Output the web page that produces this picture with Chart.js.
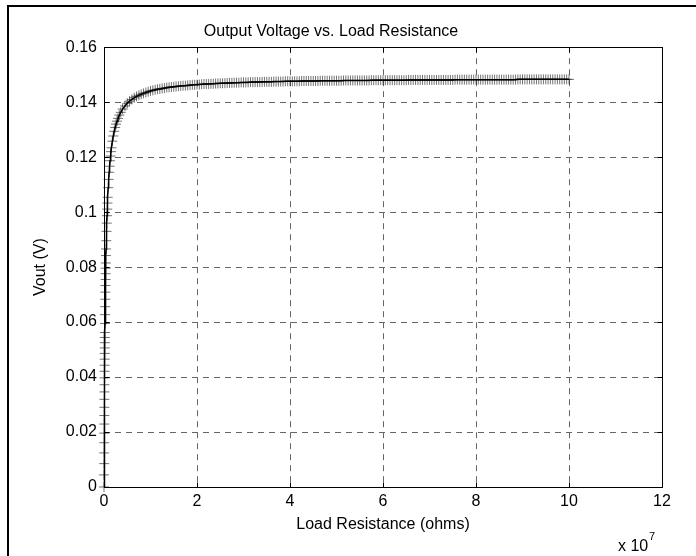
<!DOCTYPE html>
<html>
<head>
<meta charset="utf-8">
<script src="https://cdn.jsdelivr.net/npm/chart.js@4.4.0/dist/chart.umd.min.js"></script>
<style>
  html, body { margin: 0; padding: 0; background: #fff; }
  #wrap { position: relative; width: 696px; height: 556px; overflow: hidden; }
  #frame { position: absolute; left: 7px; top: 5px; width: 800px; height: 700px;
           border-left: 2px solid #000; border-top: 2px solid #000; }
  #mycanvas { position: absolute; left: 0; top: 0; }
</style>
</head>
<body>
<div id="wrap">
  <div id="frame"></div>
  <canvas id="mycanvas" width="696" height="556"></canvas>
</div>
<script>
// load resistance in ohms
var resistance = [
  0, 1e4, 2e4, 3e4, 4e4, 5e4, 6e4, 7e4, 8e4, 9e4,
  1e5, 1.1e5, 1.2e5, 1.3e5, 1.4e5, 1.5e5, 1.6e5, 1.7e5, 1.8e5, 1.9e5,
  2e5, 2.2e5, 2.4e5, 2.6e5, 2.8e5, 3e5, 3.2e5, 3.4e5, 3.6e5, 3.8e5,
  4e5, 4.3e5, 4.6e5, 5e5, 5.5e5, 6e5, 6.5e5, 7e5, 7.5e5, 8e5,
  9e5, 1e6, 1.1e6, 1.2e6, 1.3e6, 1.4e6, 1.5e6, 1.6e6, 1.8e6, 2e6,
  2.2e6, 2.4e6, 2.6e6, 2.8e6, 3e6, 3.3e6, 3.6e6, 4e6, 4.5e6, 5e6,
  5.5e6, 6e6, 6.5e6, 7e6, 7.5e6, 8e6, 8.5e6, 9e6, 9.5e6,
  1e7, 1.05e7, 1.1e7, 1.15e7, 1.2e7, 1.25e7, 1.3e7, 1.35e7, 1.4e7, 1.45e7,
  1.5e7, 1.55e7, 1.6e7, 1.65e7, 1.7e7, 1.75e7, 1.8e7, 1.85e7, 1.9e7, 1.95e7,
  2e7, 2.05e7, 2.1e7, 2.15e7, 2.2e7, 2.25e7, 2.3e7, 2.35e7, 2.4e7, 2.45e7,
  2.5e7, 2.55e7, 2.6e7, 2.65e7, 2.7e7, 2.75e7, 2.8e7, 2.85e7, 2.9e7, 2.95e7,
  3e7, 3.05e7, 3.1e7, 3.15e7, 3.2e7, 3.25e7, 3.3e7, 3.35e7, 3.4e7, 3.45e7,
  3.5e7, 3.55e7, 3.6e7, 3.65e7, 3.7e7, 3.75e7, 3.8e7, 3.85e7, 3.9e7, 3.95e7,
  4e7, 4.05e7, 4.1e7, 4.15e7, 4.2e7, 4.25e7, 4.3e7, 4.35e7, 4.4e7, 4.45e7,
  4.5e7, 4.55e7, 4.6e7, 4.65e7, 4.7e7, 4.75e7, 4.8e7, 4.85e7, 4.9e7, 4.95e7,
  5e7, 5.05e7, 5.1e7, 5.15e7, 5.2e7, 5.25e7, 5.3e7, 5.35e7, 5.4e7, 5.45e7,
  5.5e7, 5.55e7, 5.6e7, 5.65e7, 5.7e7, 5.75e7, 5.8e7, 5.85e7, 5.9e7, 5.95e7,
  6e7, 6.05e7, 6.1e7, 6.15e7, 6.2e7, 6.25e7, 6.3e7, 6.35e7, 6.4e7, 6.45e7,
  6.5e7, 6.55e7, 6.6e7, 6.65e7, 6.7e7, 6.75e7, 6.8e7, 6.85e7, 6.9e7, 6.95e7,
  7e7, 7.05e7, 7.1e7, 7.15e7, 7.2e7, 7.25e7, 7.3e7, 7.35e7, 7.4e7, 7.45e7,
  7.5e7, 7.55e7, 7.6e7, 7.65e7, 7.7e7, 7.75e7, 7.8e7, 7.85e7, 7.9e7, 7.95e7,
  8e7, 8.05e7, 8.1e7, 8.15e7, 8.2e7, 8.25e7, 8.3e7, 8.35e7, 8.4e7, 8.45e7,
  8.5e7, 8.55e7, 8.6e7, 8.65e7, 8.7e7, 8.75e7, 8.8e7, 8.85e7, 8.9e7, 8.95e7,
  9e7, 9.05e7, 9.1e7, 9.15e7, 9.2e7, 9.25e7, 9.3e7, 9.35e7, 9.4e7, 9.45e7,
  9.5e7, 9.55e7, 9.6e7, 9.65e7, 9.7e7, 9.75e7, 9.8e7, 9.85e7, 9.9e7, 9.95e7,
  1e8
];
// output voltage (V)
var vout = [
  0, 0.0044, 0.0085, 0.0124, 0.0161, 0.0196, 0.0229, 0.0260, 0.0290, 0.0319,
  0.0346, 0.0372, 0.0397, 0.0421, 0.0443, 0.0465, 0.0486, 0.0506, 0.0525, 0.0544,
  0.0562, 0.0595, 0.0627, 0.0656, 0.0683, 0.0709, 0.0733, 0.0755, 0.0776, 0.0796,
  0.0815, 0.0842, 0.0866, 0.0896, 0.0930, 0.0960, 0.0987, 0.1011, 0.1033, 0.1054,
  0.1089, 0.1119, 0.1145, 0.1167, 0.1187, 0.1204, 0.1220, 0.1234, 0.1258, 0.1277,
  0.1294, 0.1308, 0.1320, 0.1331, 0.1341, 0.1353, 0.1363, 0.1375, 0.1386, 0.1396,
  0.1404, 0.1410, 0.1416, 0.1421, 0.1425, 0.1429, 0.1432, 0.1435, 0.1438,
  0.1441, 0.1443, 0.1445, 0.1447, 0.1448, 0.1450, 0.1451, 0.1453, 0.1454, 0.1455,
  0.1456, 0.1457, 0.1458, 0.1459, 0.1460, 0.1460, 0.1461, 0.1462, 0.1463, 0.1463,
  0.1464, 0.1464, 0.1465, 0.1466, 0.1466, 0.1466, 0.1467, 0.1467, 0.1468, 0.1468,
  0.1469, 0.1469, 0.1469, 0.1470, 0.1470, 0.1470, 0.1471, 0.1471, 0.1471, 0.1472,
  0.1472, 0.1472, 0.1472, 0.1473, 0.1473, 0.1473, 0.1473, 0.1473, 0.1474, 0.1474,
  0.1474, 0.1474, 0.1474, 0.1475, 0.1475, 0.1475, 0.1475, 0.1475, 0.1476, 0.1476,
  0.1476, 0.1476, 0.1476, 0.1476, 0.1476, 0.1477, 0.1477, 0.1477, 0.1477, 0.1477,
  0.1477, 0.1477, 0.1477, 0.1478, 0.1478, 0.1478, 0.1478, 0.1478, 0.1478, 0.1478,
  0.1478, 0.1478, 0.1478, 0.1479, 0.1479, 0.1479, 0.1479, 0.1479, 0.1479, 0.1479,
  0.1479, 0.1479, 0.1479, 0.1479, 0.1479, 0.1480, 0.1480, 0.1480, 0.1480, 0.1480,
  0.1480, 0.1480, 0.1480, 0.1480, 0.1480, 0.1480, 0.1480, 0.1480, 0.1480, 0.1480,
  0.1480, 0.1481, 0.1481, 0.1481, 0.1481, 0.1481, 0.1481, 0.1481, 0.1481, 0.1481,
  0.1481, 0.1481, 0.1481, 0.1481, 0.1481, 0.1481, 0.1481, 0.1481, 0.1481, 0.1481,
  0.1481, 0.1482, 0.1482, 0.1482, 0.1482, 0.1482, 0.1482, 0.1482, 0.1482, 0.1482,
  0.1482, 0.1482, 0.1482, 0.1482, 0.1482, 0.1482, 0.1482, 0.1482, 0.1482, 0.1482,
  0.1482, 0.1482, 0.1482, 0.1482, 0.1482, 0.1482, 0.1482, 0.1482, 0.1483, 0.1483,
  0.1483, 0.1483, 0.1483, 0.1483, 0.1483, 0.1483, 0.1483, 0.1483, 0.1483, 0.1483,
  0.1483, 0.1483, 0.1483, 0.1483, 0.1483, 0.1483, 0.1483, 0.1483, 0.1483, 0.1483,
  0.1483
];

var xTickValues = [0, 2e7, 4e7, 6e7, 8e7, 10e7, 12e7];
var xTickLabels = ['0', '2', '4', '6', '8', '10', '12'];
var yTickValues = [0, 0.02, 0.04, 0.06, 0.08, 0.1, 0.12, 0.14, 0.16];
var yTickLabels = ['0', '0.02', '0.04', '0.06', '0.08', '0.1', '0.12', '0.14', '0.16'];

var FONT = 'Liberation Sans, Arial, sans-serif';

var points = [];
for (var i in resistance) {
  points.push({ x: resistance[i], y: vout[i] });
}

// box, inward tick marks and the x10^7 exponent, like a matlab axes
var matlabAxes = {
  id: 'matlabAxes',
  afterDraw: function(chart) {
    var ctx = chart.ctx;
    var a = chart.chartArea;
    var xs = chart.scales.x, ys = chart.scales.y;
    var L = Math.round(a.left) + 0.5, R = Math.round(a.right) + 0.5;
    var T = Math.round(a.top) + 0.5, B = Math.round(a.bottom) + 0.5;
    ctx.save();
    ctx.strokeStyle = '#000';
    ctx.lineWidth = 1;
    ctx.beginPath();
    ctx.rect(L, T, R - L, B - T);
    xTickValues.forEach(function(v) {
      var px = Math.round(xs.getPixelForValue(v)) + 0.5;
      ctx.moveTo(px, B); ctx.lineTo(px, B - 5);
      ctx.moveTo(px, T); ctx.lineTo(px, T + 5);
    });
    yTickValues.forEach(function(v) {
      var py = Math.round(ys.getPixelForValue(v)) + 0.5;
      ctx.moveTo(L, py); ctx.lineTo(L + 5, py);
      ctx.moveTo(R, py); ctx.lineTo(R - 5, py);
    });
    ctx.stroke();
    ctx.fillStyle = '#000';
    ctx.textBaseline = 'alphabetic';
    ctx.textAlign = 'left';
    ctx.font = '16px ' + FONT;
    ctx.fillText('x 10', a.right - 44, 551);
    ctx.font = '11px ' + FONT;
    ctx.fillText('7', a.right - 13, 540);
    ctx.restore();
  }
};

var ctx = document.getElementById('mycanvas');

var lineChart = new Chart(ctx, {
  type: 'scatter',
  data: {
    datasets: [
      {
        label: 'Vout',
        data: points,
        showLine: true,
        borderColor: '#000',
        borderWidth: 1.5,
        pointStyle: 'cross',
        pointRadius: 5,
        pointBorderColor: 'rgba(0,0,0,0.55)',
        pointBorderWidth: 1,
        pointHoverRadius: 5,
        clip: false
      }
    ]
  },
  options: {
    responsive: false,
    animation: false,
    devicePixelRatio: 1,
    layout: { padding: { left: 0, right: 34, top: 0, bottom: 0 } },
    plugins: {
      legend: { display: false },
      tooltip: { enabled: false },
      title: {
        display: true,
        text: 'Output Voltage vs. Load Resistance',
        color: '#000',
        font: { family: FONT, size: 16, weight: 'normal' },
        padding: { top: 22, bottom: 6 }
      }
    },
    scales: {
      x: {
        type: 'linear',
        min: 0,
        max: 12e7,
        afterBuildTicks: function(scale) {
          scale.ticks = xTickValues.map(function(v) { return { value: v }; });
        },
        afterFit: function(scale) { scale.height = 69; },
        ticks: {
          color: '#000',
          font: { family: FONT, size: 16 },
          padding: 5,
          maxRotation: 0,
          callback: function(v, i) { return xTickLabels[i]; }
        },
        grid: { color: '#666', lineWidth: 1, drawTicks: false, tickLength: 0 },
        border: { display: false, dash: [6, 5] },
        title: {
          display: true,
          text: 'Load Resistance (ohms)',
          color: '#000',
          font: { family: FONT, size: 16 },
          padding: { top: 0, bottom: 22 }
        }
      },
      y: {
        type: 'linear',
        min: 0,
        max: 0.16,
        afterBuildTicks: function(scale) {
          scale.ticks = yTickValues.map(function(v) { return { value: v }; });
        },
        afterFit: function(scale) { scale.width = 104; },
        ticks: {
          color: '#000',
          font: { family: FONT, size: 16 },
          padding: 7,
          callback: function(v, i) { return yTickLabels[i]; }
        },
        grid: { color: '#666', lineWidth: 1, drawTicks: false, tickLength: 0 },
        border: { display: false, dash: [6, 5] },
        title: {
          display: true,
          text: 'Vout (V)',
          color: '#000',
          font: { family: FONT, size: 16 },
          padding: { top: 31, bottom: 0 }
        }
      }
    }
  },
  plugins: [matlabAxes]
});
</script>
</body>
</html>
